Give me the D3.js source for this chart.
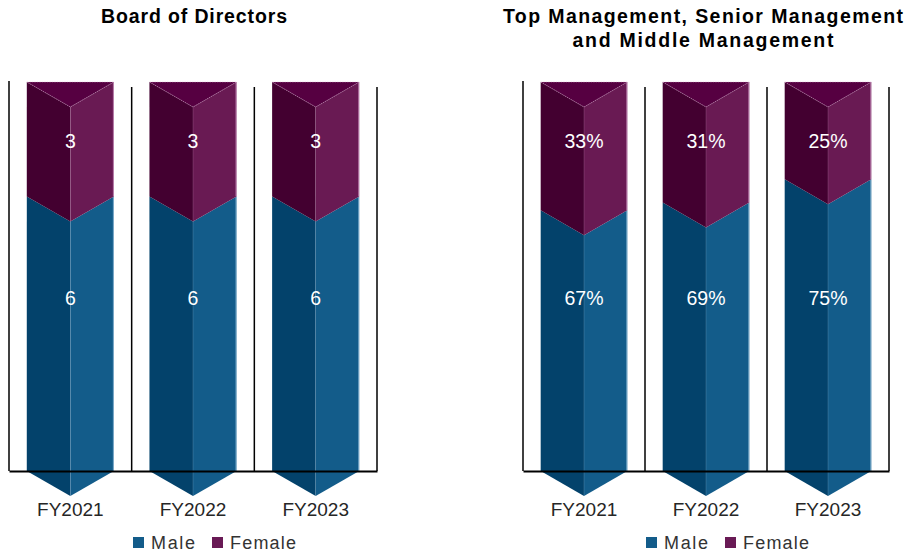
<!DOCTYPE html>
<html>
<head>
<meta charset="utf-8">
<script src="https://cdn.jsdelivr.net/npm/d3@7"></script>
<style>
  html, body { margin: 0; padding: 0; background: #fff; }
  svg { display: block; }
</style>
</head>
<body>
<svg id="chart" width="911" height="555"></svg>
<script>
// ---------- DATA ----------
const categories = ["FY2021", "FY2022", "FY2023"];
const seriesNames = ["Male", "Female"];

const boardTitle = ["Board of Directors"];
const boardMale = [6, 6, 6];
const boardFemale = [3, 3, 3];
const boardAxisMax = 8.5;          // value axis maximum (bars clipped at top)

const mgmtTitle = ["Top Management, Senior Management", "and Middle Management"];
const mgmtMale = [67, 69, 75];     // percent
const mgmtFemale = [33, 31, 25];   // percent
const mgmtAxisMax = 100;

// ---------- STYLE ----------
const colors = {
  Male:   { left: "#03426b", right: "#135c8a", top: "#0b4f7c", edge: "rgba(170,205,230,0.7)", legend: "#135c8a" },
  Female: { left: "#430030", right: "#691a53", top: "#560041", edge: "rgba(220,170,210,0.7)", legend: "#691a55" }
};
const FONT = "'Liberation Sans', Arial, sans-serif";

const svg = d3.select("#chart");

const plotTop = 82, plotBottom = 471, depth = 25;

function drawPanel(cfg) {
  const g = svg.append("g");
  const x = d3.scaleBand().domain(categories).range([cfg.x0, cfg.x1]).paddingInner(0).paddingOuter(0);
  const y = d3.scaleLinear().domain([0, cfg.axisMax]).range([plotBottom, plotTop]).clamp(true);
  const barW = x.bandwidth() * 0.71;

  // title
  const cx = (cfg.x0 + cfg.x1) / 2 + cfg.titleShift;
  g.append("text")
    .attr("x", cx).attr("y", cfg.titleY)
    .attr("text-anchor", "middle")
    .style("font-family", FONT).style("font-weight", "bold").style("font-size", "19.5px")
    .style("fill", "#000")
    .selectAll("tspan").data(cfg.title).join("tspan")
    .attr("x", cx).attr("dy", (d, i) => i === 0 ? 0 : 24)
    .attr("textLength", (d, i) => cfg.titleWidths[i])
    .attr("lengthAdjust", "spacing")
    .text(d => d);

  // vertical category walls
  const walls = categories.map(c => x(c)).concat([cfg.x1]);
  g.selectAll("line.wall").data(walls).join("line")
    .attr("class", "wall")
    .attr("x1", d => d).attr("x2", d => d)
    .attr("y1", (d, i) => i === 0 ? plotTop - 1 : plotTop + 5)
    .attr("y2", plotBottom)
    .attr("stroke", "#000").attr("stroke-width", 1.5);

  // stacked data
  const rows = categories.map((c, i) => ({ cat: c, Male: cfg.male[i], Female: cfg.female[i] }));
  const stack = d3.stack().keys(seriesNames)(rows);

  stack.forEach((layer, li) => {
    const key = layer.key;
    const col = colors[key];
    layer.forEach((d, i) => {
      const xc = x(categories[i]) + x.bandwidth() / 2;
      const xl = xc - barW / 2, xr = xc + barW / 2;
      const yT = y(d[1]), yB = y(d[0]);
      const left = [[xl, yT], [xc, yT + depth], [xc, yB + depth], [xl, yB]];
      const right = [[xc, yT + depth], [xr, yT], [xr, yB], [xc, yB + depth]];
      g.append("polygon").attr("points", left.join(" ")).attr("fill", col.left);
      g.append("polygon").attr("points", right.join(" ")).attr("fill", col.right);
      // right edge highlight
      g.append("line").attr("x1", xr - 0.5).attr("x2", xr - 0.5).attr("y1", yT).attr("y2", yB)
        .attr("stroke", col.edge).attr("stroke-width", 1);
      // centre ridge
      g.append("line").attr("x1", xc).attr("x2", xc).attr("y1", yT + depth).attr("y2", yB + depth)
        .attr("stroke", col.edge).attr("stroke-width", 0.6).attr("opacity", 0.5);
      if (li === stack.length - 1) {
        const top = [[xl, yT], [xr, yT], [xc, yT + depth]];
        g.append("polygon").attr("points", top.join(" ")).attr("fill", col.top)
          .attr("stroke", col.edge).attr("stroke-width", 0.6).attr("stroke-dasharray", "1.5,1");
      }
    });
  });

  // data labels
  const labelY = { Female: plotTop + 59, Male: plotTop + 216 };
  seriesNames.forEach(key => {
    const vals = key === "Male" ? cfg.male : cfg.female;
    g.selectAll(null).data(vals).join("text")
      .attr("x", (d, i) => x(categories[i]) + x.bandwidth() / 2)
      .attr("y", labelY[key])
      .attr("dy", "0.35em")
      .attr("text-anchor", "middle")
      .style("font-family", FONT).style("font-size", "19.5px")
      .style("fill", "#fff")
      .text(d => cfg.fmt(d));
  });

  // category axis
  const axis = d3.axisBottom(x).tickSize(0).tickSizeOuter(0).tickPadding(32);
  const ag = g.append("g").attr("transform", `translate(0,${plotBottom})`).call(axis);
  ag.select(".domain").attr("stroke", "#000").attr("stroke-width", 2);
  ag.selectAll("text").style("font-family", FONT).style("font-size", "19px").style("fill", "#262626");

  // legend
  const lg = g.append("g").attr("transform", `translate(${(cfg.x0 + cfg.x1) / 2 - 60},537)`);
  const offs = [0, 79];
  const widths = [44, 66];
  seriesNames.forEach((k, i) => {
    lg.append("rect").attr("x", offs[i]).attr("y", 0).attr("width", 11).attr("height", 11)
      .attr("fill", colors[k].legend);
    lg.append("text").attr("x", offs[i] + 18).attr("y", 11.5)
      .attr("textLength", widths[i]).attr("lengthAdjust", "spacing")
      .style("font-family", FONT).style("font-size", "18px").style("fill", "#333")
      .text(k);
  });
}

drawPanel({ x0: 9, x1: 377, title: boardTitle, titleWidths: [186], titleY: 23, titleShift: 1,
  male: boardMale, female: boardFemale, axisMax: boardAxisMax, fmt: d => String(d) });
drawPanel({ x0: 523, x1: 889, title: mgmtTitle, titleWidths: [400, 261], titleY: 23, titleShift: -3,
  male: mgmtMale, female: mgmtFemale, axisMax: mgmtAxisMax, fmt: d => d + "%" });
</script>
</body>
</html>
